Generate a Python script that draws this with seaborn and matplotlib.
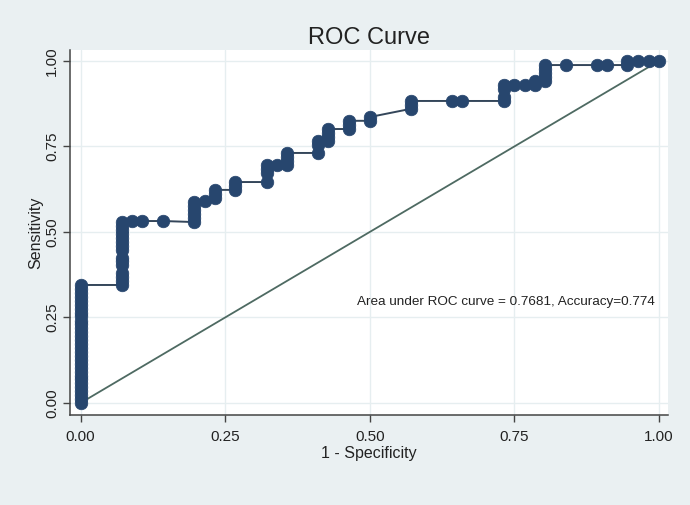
import matplotlib
matplotlib.use("Agg")
import matplotlib.pyplot as plt
import seaborn as sns
import pandas as pd

# ---- data (ROC points, in plotting order) ----
fpr = [0.0] * 31 + [0.071] * 15 + [0.089, 0.106, 0.143] \
    + [0.196] * 6 + [0.215] + [0.232] * 3 + [0.267] * 3 \
    + [0.322] * 4 + [0.340] + [0.357] * 4 + [0.411] * 3 + [0.428] * 4 \
    + [0.464] * 3 + [0.500] * 2 + [0.571] * 3 + [0.642, 0.660] \
    + [0.732] * 4 + [0.749, 0.768] + [0.786] * 2 + [0.803] * 5 \
    + [0.839, 0.893, 0.910] + [0.945] * 2 + [0.964, 0.983, 1.0]

tpr = [0.000, 0.011, 0.023, 0.034, 0.046, 0.057, 0.069, 0.080, 0.092, 0.103,
       0.115, 0.126, 0.138, 0.149, 0.161, 0.172, 0.184, 0.195, 0.207, 0.218,
       0.230, 0.241, 0.253, 0.264, 0.276, 0.287, 0.299, 0.310, 0.322, 0.333,
       0.345,
       0.345, 0.356, 0.368, 0.379, 0.402, 0.414, 0.425, 0.448, 0.460, 0.471,
       0.483, 0.494, 0.506, 0.517, 0.529,
       0.532, 0.532, 0.532,
       0.529, 0.541, 0.552, 0.564, 0.576, 0.588,
       0.591,
       0.599, 0.611, 0.623,
       0.623, 0.634, 0.646,
       0.646, 0.673, 0.684, 0.696,
       0.696,
       0.696, 0.708, 0.719, 0.731,
       0.731, 0.754, 0.766,
       0.766, 0.778, 0.789, 0.801,
       0.801, 0.813, 0.825,
       0.825, 0.836,
       0.860, 0.871, 0.883,
       0.883, 0.883,
       0.883, 0.895, 0.918, 0.930,
       0.930, 0.930,
       0.930, 0.942,
       0.942, 0.953, 0.965, 0.977, 0.988,
       0.988, 0.988, 0.988,
       0.988, 1.000,
       1.000, 1.000, 1.000]

ref_x = [0.0, 1.0]
ref_y = [0.0, 1.0]
ticks = [0.0, 0.25, 0.5, 0.75, 1.0]
tick_labels = ["0.00", "0.25", "0.50", "0.75", "1.00"]
title = "ROC Curve"
xlabel = "1 - Specificity"
ylabel = "Sensitivity"
note = "Area under ROC curve = 0.7681, Accuracy=0.774"

df = pd.DataFrame({"fpr": fpr, "tpr": tpr})
ref = pd.DataFrame({"x": ref_x, "y": ref_y})

sns.set_theme(style="white")
plt.rcParams["font.family"] = ["Liberation Sans", "DejaVu Sans"]

bg = "#eaf0f2"
txt = "#222222"
fig = plt.figure(figsize=(6.9, 5.05), dpi=100, facecolor=bg)
ax = fig.add_axes([70 / 690, 1 - 415 / 505, (668 - 70) / 690, (415 - 50) / 505])
ax.set_facecolor("white")

# grid
for t in ticks:
    ax.axhline(t, color="#e6eef0", lw=1.0, zorder=0)
    ax.axvline(t, color="#e6eef0", lw=1.0, zorder=0)

sns.lineplot(data=ref, x="x", y="y", ax=ax, color="#4e6a62", lw=1.3,
             sort=False, estimator=None, zorder=2)
sns.lineplot(data=df, x="fpr", y="tpr", ax=ax, color="#34465a", lw=1.4,
             sort=False, estimator=None, zorder=3)
sns.scatterplot(data=df, x="fpr", y="tpr", ax=ax, color="#27466e",
                edgecolor="#27466e", s=82, linewidth=0.5, zorder=4)

ax.set_xlim(-0.0182, 1.0156)
ax.set_ylim(-0.0351, 1.032)
ax.set_xticks(ticks)
ax.set_xticklabels(tick_labels)
ax.set_yticks(ticks)
ax.set_yticklabels(tick_labels, rotation=90, va="center")
ax.tick_params(axis="both", which="major", direction="out", length=5,
               width=1.0, color="#444444", labelsize=11, labelcolor=txt,
               bottom=True, left=True)
ax.tick_params(axis="x", pad=6)
ax.tick_params(axis="y", pad=3)

for s in ["top", "right"]:
    ax.spines[s].set_visible(False)
for s in ["left", "bottom"]:
    ax.spines[s].set_color("#444444")
    ax.spines[s].set_linewidth(1.1)

ax.set_xlabel(xlabel, fontsize=11.5, color=txt, labelpad=1)
ax.set_ylabel(ylabel, fontsize=11.5, color=txt, labelpad=1)
ax.set_title(title, fontsize=17, color=txt, pad=4)

ax.text(0.478, 0.295, note, fontsize=9.7, color=txt, ha="left", va="center")

fig.savefig("out.png", dpi=100, facecolor=bg)
